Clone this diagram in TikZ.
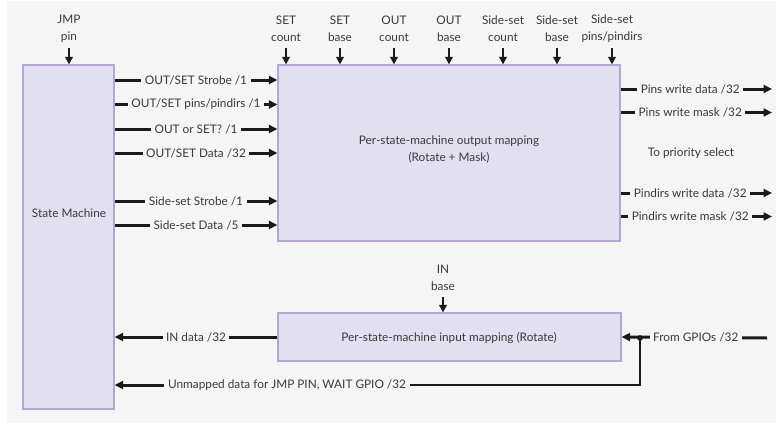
\documentclass[tikz,border=0pt]{standalone}
\usepackage{fontspec}
\setmainfont{Lato}
\usetikzlibrary{arrows.meta}
\definecolor{bgc}{HTML}{F5F5F5}
\definecolor{boxfill}{HTML}{E2DFF0}
\definecolor{boxline}{HTML}{B4A5D6}
\definecolor{txt}{HTML}{3A3A3A}
\definecolor{ink}{HTML}{1A1A1A}
\tikzset{
  box/.style={draw=boxline, fill=boxfill, line width=1.2pt, inner sep=0pt},
  lbl/.style={text=txt, font=\fontsize{11.8}{17}\selectfont, align=center, inner sep=0pt},
  midlbl/.style={lbl, fill=bgc, inner xsep=3.5pt, inner ysep=2pt},
  sig/.style={draw=ink, line width=3pt, -{Triangle[length=8.5pt,width=8pt]}},
  thinline/.style={draw=ink, line width=1.8pt},
  dn/.style={draw=ink, line width=2.4pt, -{Triangle[length=7.5pt,width=7.5pt]}},
}
\begin{document}
\begin{tikzpicture}[x=1pt,y=-1pt]
\useasboundingbox (0,0) rectangle (776,423);
\fill[white] (0,0) rectangle (776,423);
\fill[bgc] (7,1) rectangle (776,423);

% boxes
\node[box, minimum width=91pt, minimum height=344pt] (sm) at (68.5,237) {};
\node[lbl] (smt) at (69,213) {State Machine};
\node[box, minimum width=342pt, minimum height=176pt] (out) at (449,153) {};
\node[lbl] (outt) at (449,149.5) {Per-state-machine output mapping\\(Rotate + Mask)};
\node[box, minimum width=343pt, minimum height=48pt] (in) at (449.5,337) {};
\node[lbl] (int) at (449,338) {Per-state-machine input mapping (Rotate)};

% top labels
\node[lbl] (jmp) at (69,28.5) {JMP\\pin};
\draw[dn] (jmp |- 0,48) -- (jmp |- sm.north);
\foreach \nm/\x/\t in {setc/286/{SET\\count}, setb/340/{SET\\base}, outc/394/{OUT\\count}, outb/449/{OUT\\base}, ssc/503/{Side-set\\count}, ssb/557/{Side-set\\base}, ssp/612/{Side-set\\pins/pindirs}}{
  \node[lbl] (\nm) at (\x,28.5) {\t};
  \draw[dn] (\nm |- 0,48) -- (\nm |- out.north);
}
\node[lbl] (inb) at (443,277.5) {IN\\base};
\draw[dn] (inb |- 0,297) -- (inb |- in.north);

% left signals
\foreach \y/\t in {80/{OUT/SET Strobe /1}, 104.5/{OUT/SET pins/pindirs /1}, 129/{OUT or SET? /1}, 153/{OUT/SET Data /32}, 201/{Side-set Strobe /1}, 225/{Side-set Data /5}}{
  \draw[sig] (sm.east |- 0,\y) -- node[midlbl]{\t} (out.west |- 0,\y);
}

% right outputs
\foreach \nm/\y/\t in {pwd/89/{Pins write data /32}, pwm/112.5/{Pins write mask /32}, dwd/193/{Pindirs write data /32}, dwm/216.5/{Pindirs write mask /32}}{
  \coordinate (\nm) at (772,\y);
  \draw[sig] (out.east |- \nm) -- node[midlbl, pos=0.46]{\t} (\nm);
}
\node[lbl] (prio) at (691,153) {To priority select};

% input side
\draw[sig] (in.west) -- node[midlbl]{IN data /32} (sm.east |- in.west);
\coordinate (gp) at (767,338);
\coordinate (jn) at (640,338);
\draw[sig] (gp) -- node[midlbl, pos=0.49]{From GPIOs /32} (in.east);
\fill[ink] (jn) circle (2.8pt);
\node[midlbl] (unm) at (287,385) {Unmapped data for JMP PIN, WAIT GPIO /32};
\draw[thinline] (jn) |- (unm.east);
\draw[sig] (unm.west) -- (sm.east |- unm.west);
\end{tikzpicture}
\end{document}
